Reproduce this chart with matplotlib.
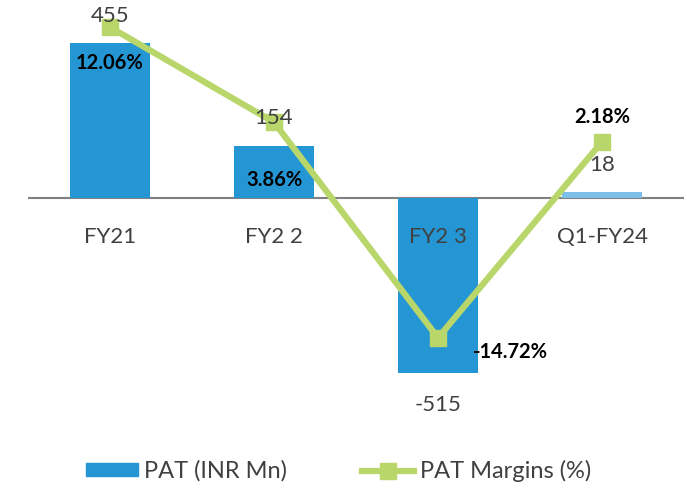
import matplotlib.pyplot as plt
import numpy as np

plt.rcParams['font.family'] = ['Lato', 'DejaVu Sans']

# data
periods = ["FY21", "FY2 2", "FY2 3", "Q1-FY24"]
pat = [455, 154, -515, 18]
margins = [12.06, 3.86, -14.72, 2.18]
margin_labels = ["12.06%", "3.86%", "-14.72%", "2.18%"]

blue = "#2596D4"
light_blue = "#7BBFE8"
green = "#B9D66A"
grey_txt = "#404040"

fig = plt.figure(figsize=(6.87, 4.94), dpi=100)
ax = fig.add_axes([28 / 687, 74 / 494, 656 / 687, 420 / 494])
ax2 = ax.twinx()

x = np.arange(len(periods))
colors = [blue, blue, blue, light_blue]
ax.bar(x, pat, width=0.49, color=colors, zorder=2)
ax.axhline(0, color="#808080", lw=1.5, zorder=1)

ax.set_xlim(-0.5, 3.5)
ax.set_ylim(-653, 582)
ax2.set_ylim(-21.8, 14.4)

for a in (ax, ax2):
    a.set_xticks([])
    a.set_yticks([])
    for s in a.spines.values():
        s.set_visible(False)

# category labels below the zero line
for xi, name in zip(x, periods):
    ax2.text(xi, -115, name, ha="center", va="center", fontsize=16,
             color=grey_txt, transform=ax.transData, zorder=5)

# bar value labels (drawn on top of the line)
for xi, v in zip(x, pat):
    off = 80 if v >= 0 else -95
    ax2.text(xi, v + off, str(v), ha="center", va="center", fontsize=16,
             color=grey_txt, transform=ax.transData, zorder=5)

# margin line
line, = ax2.plot(x, margins, color=green, lw=4.5, marker="s", markersize=12,
                 zorder=3)

# margin labels
label_pos = [(0, 8.97), (1, -1.1), (2.44, -15.9), (3, 4.3)]
for (lx, ly), lab in zip(label_pos, margin_labels):
    ax2.text(lx, ly, lab, ha="center", va="center", fontsize=14.5,
             fontweight="bold", color="black", zorder=4)

# legend
handles = [plt.Rectangle((0, 0), 1, 1, color=blue), line]
fig.legend(handles, ["PAT (INR Mn)", "PAT Margins (%)"], loc="center left",
           bbox_to_anchor=(86 / 687, 23 / 494), ncol=2, frameon=False,
           fontsize=17, borderpad=0, borderaxespad=0,
           handlelength=2.2, handleheight=0.45, handletextpad=0.25,
           columnspacing=3.2, labelcolor=grey_txt)

fig.savefig("out.png", dpi=100)
